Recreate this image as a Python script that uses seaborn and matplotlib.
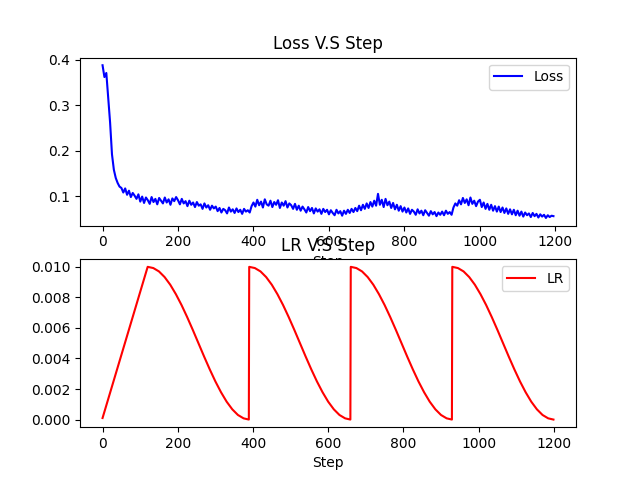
import matplotlib
matplotlib.use("Agg")
import matplotlib.pyplot as plt
import seaborn as sb

loss_steps = list(range(0, 1200, 5))
loss_values = [
    0.388, 0.362, 0.371, 0.318, 0.262, 0.192, 0.158, 0.140, 0.129, 0.121, 0.118, 0.108, 0.117, 0.103, 0.112, 0.098, 0.107, 0.101, 0.094, 0.104,
    0.088, 0.099, 0.085, 0.097, 0.091, 0.083, 0.098, 0.087, 0.094, 0.082, 0.096, 0.090, 0.084, 0.097, 0.086, 0.093, 0.081, 0.095, 0.089, 0.098,
    0.091, 0.082, 0.094, 0.084, 0.089, 0.078, 0.090, 0.081, 0.086, 0.076, 0.087, 0.079, 0.082, 0.072, 0.084, 0.075, 0.080, 0.070, 0.079, 0.073,
    0.077, 0.067, 0.074, 0.064, 0.072, 0.069, 0.062, 0.075, 0.066, 0.071, 0.063, 0.073, 0.065, 0.070, 0.061, 0.072, 0.066, 0.069, 0.064, 0.078,
    0.086, 0.077, 0.092, 0.080, 0.088, 0.075, 0.093, 0.082, 0.079, 0.090, 0.076, 0.087, 0.081, 0.091, 0.074, 0.086, 0.079, 0.089, 0.075, 0.084,
    0.080, 0.072, 0.083, 0.070, 0.079, 0.068, 0.077, 0.071, 0.064, 0.076, 0.067, 0.074, 0.062, 0.073, 0.066, 0.071, 0.061, 0.072, 0.065, 0.070,
    0.060, 0.069, 0.063, 0.058, 0.070, 0.062, 0.067, 0.057, 0.068, 0.061, 0.070, 0.063, 0.072, 0.065, 0.074, 0.067, 0.079, 0.069, 0.081, 0.072,
    0.084, 0.074, 0.087, 0.077, 0.090, 0.079, 0.105, 0.081, 0.092, 0.076, 0.094, 0.080, 0.088, 0.074, 0.085, 0.071, 0.081, 0.068, 0.078, 0.066,
    0.075, 0.064, 0.073, 0.061, 0.070, 0.066, 0.059, 0.071, 0.062, 0.068, 0.058, 0.069, 0.063, 0.057, 0.067, 0.060, 0.065, 0.056, 0.064, 0.059,
    0.066, 0.058, 0.068, 0.061, 0.065, 0.059, 0.075, 0.084, 0.079, 0.091, 0.082, 0.096, 0.085, 0.093, 0.080, 0.097, 0.083, 0.090, 0.078, 0.088,
    0.092, 0.076, 0.086, 0.072, 0.083, 0.070, 0.081, 0.068, 0.078, 0.066, 0.077, 0.065, 0.075, 0.063, 0.073, 0.061, 0.071, 0.060, 0.070, 0.058,
    0.068, 0.057, 0.066, 0.055, 0.064, 0.058, 0.062, 0.054, 0.063, 0.056, 0.061, 0.053, 0.060, 0.055, 0.059, 0.052, 0.058, 0.054, 0.057, 0.056,
]

# learning rate: warmup then 4 restarts
lr_steps = [
    0,
    120, 135, 150, 165, 180, 195, 210, 225, 240, 255, 270, 285, 300, 315, 330, 345, 360, 375, 389,
    390, 405, 420, 435, 450, 465, 480, 495, 510, 525, 540, 555, 570, 585, 600, 615, 630, 645, 659,
    660, 675, 690, 705, 720, 735, 750, 765, 780, 795, 810, 825, 840, 855, 870, 885, 900, 915, 929,
    930, 945, 960, 975, 990, 1005, 1020, 1035, 1050, 1065, 1080, 1095, 1110, 1125, 1140, 1155, 1170, 1185, 1199,
]
lr_values = [
    0.0001,
    0.01, 0.00992, 0.00970, 0.00933, 0.00883, 0.00821, 0.0075, 0.00671, 0.00587, 0.005, 0.00413, 0.00329, 0.0025, 0.00179, 0.00117, 0.00067, 0.00030, 0.00008, 0.0,
    0.01, 0.00992, 0.00970, 0.00933, 0.00883, 0.00821, 0.0075, 0.00671, 0.00587, 0.005, 0.00413, 0.00329, 0.0025, 0.00179, 0.00117, 0.00067, 0.00030, 0.00008, 0.0,
    0.01, 0.00992, 0.00970, 0.00933, 0.00883, 0.00821, 0.0075, 0.00671, 0.00587, 0.005, 0.00413, 0.00329, 0.0025, 0.00179, 0.00117, 0.00067, 0.00030, 0.00008, 0.0,
    0.01, 0.00992, 0.00970, 0.00933, 0.00883, 0.00821, 0.0075, 0.00671, 0.00587, 0.005, 0.00413, 0.00329, 0.0025, 0.00179, 0.00117, 0.00067, 0.00030, 0.00008, 0.0,
]

fig, axes = plt.subplots(2, 1, figsize=(6.4, 4.8), dpi=100)

# loss plot
sb.lineplot(x=loss_steps, y=loss_values, color="blue", label="Loss", ax=axes[0])
axes[0].set_title("Loss V.S Step")
axes[0].set_xlabel("Step")
axes[0].legend(loc="upper right")

# lr plot
sb.lineplot(x=lr_steps, y=lr_values, color="red", label="LR", ax=axes[1])
axes[1].set_title("LR V.S Step")
axes[1].set_xlabel("Step")
axes[1].legend(loc="upper right")

plt.savefig("out.png")
